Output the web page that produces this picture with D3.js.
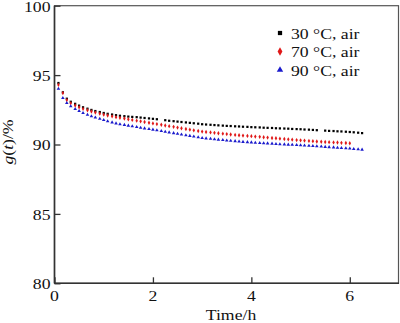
<!DOCTYPE html>
<html><head><meta charset="utf-8">
<script src="https://cdn.jsdelivr.net/npm/d3@7"></script>
<style>html,body{margin:0;padding:0;background:#fff;}svg{display:block;} text{font-family:"Liberation Serif","Times New Roman",Times,serif;}</style>
</head><body>
<svg id="chart" width="400" height="323"></svg>
<script>
const timeH = [0.08,0.17,0.25,0.33,0.42,0.50,0.58,0.67,0.75,0.83,0.92,1.00,1.08,1.17,1.25,1.33,1.42,1.50,1.58,1.67,1.75,1.83,1.92,2.00,2.08,2.17,2.25,2.33,2.42,2.50,2.58,2.67,2.75,2.83,2.92,3.00,3.08,3.17,3.25,3.33,3.42,3.50,3.58,3.67,3.75,3.83,3.92,4.00,4.08,4.17,4.25,4.33,4.42,4.50,4.58,4.67,4.75,4.83,4.92,5.00,5.08,5.17,5.25,5.33,5.42,5.50,5.58,5.67,5.75,5.83,5.92,6.00,6.08,6.17,6.25];
const air30 = [94.43,93.76,93.30,93.08,92.93,92.80,92.68,92.58,92.49,92.41,92.34,92.27,92.21,92.16,92.11,92.07,92.04,92.01,91.99,91.97,91.94,91.91,91.88,91.85,91.82,null,91.75,91.71,91.68,91.65,91.62,91.59,91.56,91.53,91.50,91.46,91.44,91.42,91.40,91.38,91.36,91.34,91.33,91.31,91.30,91.28,91.27,91.25,91.24,91.23,91.21,91.20,91.19,91.17,91.16,91.15,91.14,91.12,91.11,91.10,91.08,91.07,91.05,91.03,null,91.00,90.98,90.97,90.95,90.94,90.92,90.90,90.88,90.85,90.82];
const air70 = [94.30,93.71,93.20,92.98,92.81,92.68,92.57,92.47,92.38,92.30,92.22,92.15,92.09,92.03,91.97,91.92,91.87,91.82,91.77,91.72,91.67,91.62,91.57,91.52,91.47,91.42,91.37,91.32,91.27,91.22,91.17,91.12,91.07,91.02,90.97,90.93,90.90,90.87,90.84,90.81,90.78,90.75,90.72,90.69,90.67,90.64,90.62,90.60,90.57,90.55,90.52,90.50,90.47,90.45,90.42,90.40,90.37,90.35,90.32,90.30,90.28,90.26,90.24,90.22,90.20,90.18,90.17,90.15,90.14,90.12,90.11,90.09];
const air90 = [94.02,93.35,92.99,92.75,92.56,92.41,92.27,92.14,92.03,91.94,91.86,91.76,91.67,91.59,91.52,91.46,91.41,91.36,91.31,91.26,91.21,91.16,91.12,91.07,91.02,90.97,90.92,90.87,90.82,90.77,90.72,90.67,90.62,90.57,90.52,90.47,90.44,90.41,90.38,90.35,90.32,90.29,90.27,90.24,90.22,90.19,90.17,90.15,90.13,90.11,90.09,90.08,90.06,90.04,90.02,90.01,89.99,89.98,89.96,89.95,89.93,89.91,89.89,89.87,89.85,89.83,89.81,89.79,89.77,89.75,89.73,89.71,89.68,89.66,89.63];
const seriesNames = ["30 °C, air","70 °C, air","90 °C, air"];
const xTicks = [0,2,4,6];
const yTicks = [80,85,90,95,100];

const svg = d3.select("#chart");
const L = 54.5, R = 399, T = 5.7, B = 283.3;
const x = d3.scaleLinear().domain([0,7]).range([L,R]);
const y = d3.scaleLinear().domain([80,100]).range([B,T]);
const FONT = '"Liberation Serif","Times New Roman",Times,serif';
const SX = 1.18;

function txt(g, px, py, s, anchor, size){
  return g.append("text").attr("transform",`translate(${px},${py}) scale(${SX},1)`)
    .attr("text-anchor",anchor).style("font-family",FONT).style("font-size",size+"px").attr("fill","#111").text(s);
}

svg.append("rect").attr("x",L).attr("y",T).attr("width",R-L-0.5).attr("height",B-T)
  .attr("fill","none").attr("stroke","#555").attr("stroke-width",1.2);
svg.append("line").attr("x1",L).attr("x2",L).attr("y1",T).attr("y2",B).attr("stroke","#333").attr("stroke-width",1.6);
svg.append("line").attr("x1",L).attr("x2",R).attr("y1",B).attr("y2",B).attr("stroke","#333").attr("stroke-width",1.6);

const yAxis = svg.append("g").attr("transform",`translate(${L},0)`)
  .call(d3.axisRight(y).tickValues(yTicks).tickSize(6).tickFormat(""));
const xAxis = svg.append("g").attr("transform",`translate(0,${B})`)
  .call(d3.axisTop(x).tickValues(xTicks).tickSize(6).tickFormat(""));
[yAxis,xAxis].forEach(a=>{a.select(".domain").remove();a.selectAll("line").attr("stroke","#333").attr("stroke-width",1.3);});

const lab = svg.append("g");
yTicks.forEach(v=>txt(lab, L-4, y(v)+5.8, String(v), "end", 15));
xTicks.forEach(v=>txt(lab, x(v), B+17.5, String(v), "middle", 15));
txt(lab, 231, 320, "Time/h", "middle", 15);

const yl = svg.append("text").attr("transform",`translate(13,142) rotate(-90) scale(${SX},1)`)
  .attr("text-anchor","middle").style("font-family",FONT).style("font-size","15px").attr("fill","#111");
yl.append("tspan").style("font-style","italic").text("g");
yl.append("tspan").text("(");
yl.append("tspan").style("font-style","italic").text("t");
yl.append("tspan").text(")/%");

const colors = ["#000000","#e01818","#1a1acc"];
const shapes = [d3.symbolSquare, d3.symbolDiamond, d3.symbolTriangle];
const sizes = [5,5.5,5.5];
const data = [air30, air70, air90];
const pts = svg.append("g");
data.forEach((arr,i)=>{
  const rowsData = arr.map((v,j)=>({t:timeH[j], v})).filter(d=>d.v!==null);
  pts.selectAll(null).data(rowsData).enter().append("path")
    .attr("transform",d=>`translate(${x(d.t)},${y(d.v)})`)
    .attr("d",d3.symbol().type(shapes[i]).size(sizes[i]))
    .attr("fill",colors[i]);
});

const lg = svg.append("g");
const rows = [33,51.5,70];
seriesNames.forEach((n,i)=>{
  lg.append("path").attr("transform",`translate(280,${rows[i]})`)
    .attr("d",d3.symbol().type(shapes[i]).size(i===1?20:18)).attr("fill",colors[i]);
  txt(lg, 291, rows[i]+5.5, n, "start", 15);
});
</script>
</body></html>
